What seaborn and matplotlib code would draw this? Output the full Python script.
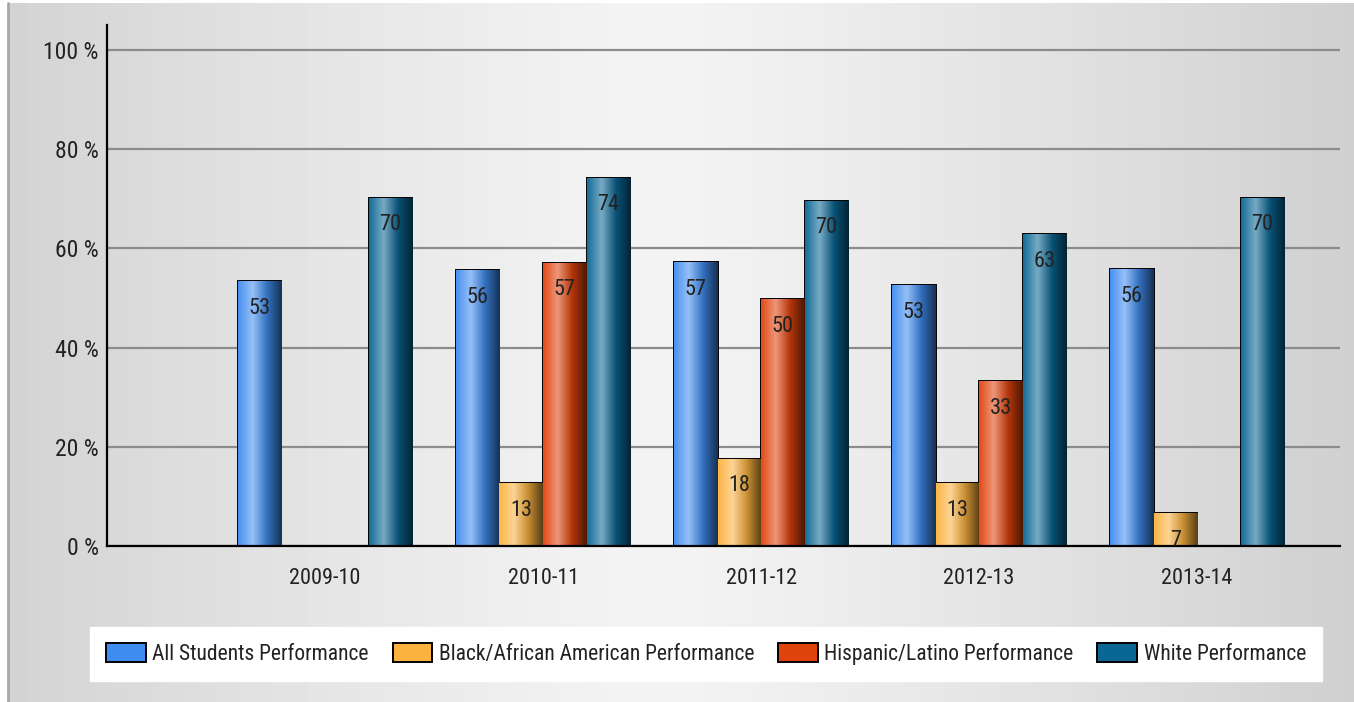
import numpy as np
import pandas as pd
import seaborn as sns
import matplotlib.pyplot as plt
from matplotlib.colors import LinearSegmentedColormap, to_rgb
from matplotlib.patches import Rectangle

years = ['2009-10', '2010-11', '2011-12', '2012-13', '2013-14']
all_students = [53.4, 55.6, 57.2, 52.6, 55.8]
black = [np.nan, 12.6, 17.6, 12.6, 6.6]
hispanic = [np.nan, 57.1, 49.8, 33.2, np.nan]
white = [70.2, 74.2, 69.6, 62.8, 70.2]

groups = ['All Students Performance', 'Black/African American Performance',
          'Hispanic/Latino Performance', 'White Performance']
colors = ['#3f8cf0', '#fbb23e', '#e0420c', '#0a6694']

data = pd.DataFrame({
    'Year': years * 4,
    'Value': all_students + black + hispanic + white,
    'Group': [g for g in groups for _ in years],
})

sns.set_style('white')
plt.rcParams['font.family'] = ['Roboto Condensed', 'DejaVu Sans']
plt.rcParams['font.stretch'] = 'condensed'

fig = plt.figure(figsize=(13.54, 7.02), dpi=100)
fig.patch.set_facecolor('white')

# gray gradient background
bg = fig.add_axes([8 / 1354, 0, 1 - 8 / 1354, 1 - 3 / 702], zorder=-10)
xs = np.linspace(0, 1, 400)
shade = 0.955 - 0.14 * np.abs(xs - 0.48) ** 1.2 * 2.2
bg.imshow(np.tile(shade, (10, 1)), cmap='gray', vmin=0, vmax=1, aspect='auto',
          extent=(0, 1, 0, 1))
bg.axis('off')
fig.add_artist(plt.Line2D([8 / 1354, 8 / 1354], [0, 1 - 3 / 702], color='#a8a8a8', lw=2))

ax = fig.add_axes([107 / 1354, (702 - 546) / 702, (1340 - 107) / 1354, (546 - 25) / 702])
ax.set_facecolor('none')
sns.barplot(data=data, x='Year', y='Value', hue='Group', hue_order=groups,
            palette=colors, ax=ax, width=0.8, edgecolor='black', linewidth=1.4,
            legend=False)

ax.set_xlim(-1, 4.655)
ax.set_ylim(0, 105)
ax.set_yticks([0, 20, 40, 60, 80, 100])
ax.set_yticklabels([f'{v} %' for v in [0, 20, 40, 60, 80, 100]])
ax.yaxis.grid(True, color='#8c8c8c', linewidth=1.6)
ax.set_axisbelow(True)
for s in ['top', 'right']:
    ax.spines[s].set_visible(False)
for s in ['left', 'bottom']:
    ax.spines[s].set_color('black')
    ax.spines[s].set_linewidth(1.6)
ax.tick_params(axis='both', length=0, colors='#222222')
ax.tick_params(axis='x', pad=16, labelsize=16)
ax.tick_params(axis='y', pad=6, labelsize=17)
ax.set_xlabel('')
ax.set_ylabel('')

# gradient fill inside each bar + labels
for cont, col in zip(ax.containers, colors):
    base = np.array(to_rgb(col))
    light = base + (1 - base) * 0.45
    dark = base * 0.35
    cmap = LinearSegmentedColormap.from_list('g', [base * 0.95 + 0.05, light, base * 0.8, dark],
                                             N=256)
    for bar in cont:
        h = bar.get_height()
        if not np.isfinite(h) or h <= 0:
            continue
        x0 = bar.get_x()
        w = bar.get_width()
        im = ax.imshow(np.linspace(0, 1, 100).reshape(1, -1), cmap=cmap, aspect='auto',
                       extent=(x0, x0 + w, 0, h), zorder=bar.get_zorder(),
                       interpolation='bicubic')
        im.set_clip_path(bar)
        bar.set_facecolor('none')
        ax.annotate(f'{h:.0f}', (x0 + w / 2, h), xytext=(0, -12), textcoords='offset points',
                    ha='center', va='top', fontsize=16, color='#222222', zorder=5)

ax.set_xlim(-1, 4.655)
ax.set_ylim(0, 105)

handles = [Rectangle((0, 0), 1, 1, facecolor=c, edgecolor='black', linewidth=1.4) for c in colors]
leg = fig.legend(handles, groups, loc='center', bbox_to_anchor=(706 / 1354, 1 - 654 / 702),
                 ncol=4, fontsize=15.5, frameon=True, fancybox=False, framealpha=1,
                 edgecolor='white', handlelength=1.85, handleheight=0.95, columnspacing=1.1,
                 handletextpad=0.3, borderpad=0.75)
leg.get_frame().set_facecolor('white')
for t in leg.get_texts():
    t.set_color('#222222')

fig.savefig('out.png', dpi=100)
